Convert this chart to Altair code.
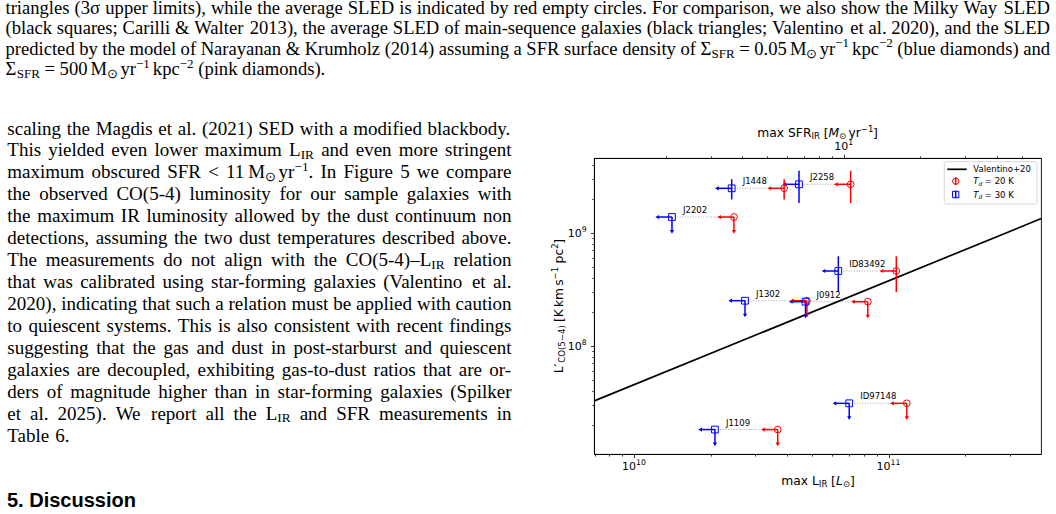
import altair as alt
import pandas as pd

# ---------------------------------------------------------------
# CO(5-4) line luminosity against the maximum IR luminosity
# ---------------------------------------------------------------
names = ["J1448", "J2258", "J2202", "ID83492", "J1302", "J0912", "ID97148", "J1109"]
lir_20k = [3.89e10, 7.10e10, 2.47e10, 1.073e11, 4.78e10, 8.29e10, 1.18e11, 3.67e10]
lir_30k = [2.42e10, 4.45e10, 1.41e10, 6.35e10, 2.73e10, 4.72e10, 7.01e10, 2.08e10]
lco = [2.47e9, 2.68e9, 1.376e9, 4.58e8, 2.50e8, 2.45e8, 3.09e7, 1.81e7]
lco_err = [5.0e8, 8.5e8, 0.0, 1.6e8, 0.0, 0.0, 0.0, 0.0]
lco_detected = [True, True, False, True, False, False, False, False]

# Valentino+20 CO(5-4)-LIR relation, end points
valentino_lir = [6.9e9, 4.0e11]
valentino_lco = [3.21e7, 1.338e9]

LIR_RANGE = [6.963e9, 3.974e11]
LCO_RANGE = [1.10e7, 4.58e9]
SFR_PER_LIR = 1.5e-10          # SFR [Msun/yr] per Lsun of IR luminosity
SFR_RANGE = [v * SFR_PER_LIR for v in LIR_RANGE]

# labelled decades of each axis
x_label_at = [1e10, 1e11]
x_label_exp = ["10", "11"]
y_label_at = [1e8, 1e9]
y_label_exp = ["8", "9"]
sfr_label_at = [10.0]
sfr_label_exp = ["1"]

LIMIT_X = 0.125                # length of the upper-limit arrows (fraction)
LIMIT_Y = 0.26

# ---------------------------------------------------------------
# Surrounding page text
# ---------------------------------------------------------------
caption_lines = [
    "triangles (3σ upper limits), while the average SLED is indicated by red empty circles. For comparison, we also show the Milky Way SLED",
    "(black squares; Carilli & Walter 2013), the average SLED of main-sequence galaxies (black triangles; Valentino et al. 2020), and the SLED",
    "predicted by the model of Narayanan & Krumholz (2014) assuming a SFR surface density of Σ_{SFR} = 0.05~M_{⊙}~yr^{−1}~kpc^{−2} (blue diamonds) and",
    "Σ_{SFR} = 500~M_{⊙}~yr^{−1}~kpc^{−2} (pink diamonds).",
]
body_lines = [
    "scaling the Magdis et al. (2021) SED with a modified blackbody.",
    "This yielded even lower maximum L_{IR} and even more stringent",
    "maximum obscured SFR < 11~M_{⊙}~yr^{−1}. In Figure 5 we compare",
    "the observed CO(5-4) luminosity for our sample galaxies with",
    "the maximum IR luminosity allowed by the dust continuum non",
    "detections, assuming the two dust temperatures described above.",
    "The measurements do not align with the CO(5-4)–L_{IR} relation",
    "that was calibrated using star-forming galaxies (Valentino et al.",
    "2020), indicating that such a relation must be applied with caution",
    "to quiescent systems. This is also consistent with recent findings",
    "suggesting that the gas and dust in post-starburst and quiescent",
    "galaxies are decoupled, exhibiting gas-to-dust ratios that are or-",
    "ders of magnitude higher than in star-forming galaxies (Spilker",
    "et al. 2025). We report all the L_{IR} and SFR measurements in",
    "Table 6.",
]
heading = "5. Discussion"

# ---------------------------------------------------------------
# Page geometry (pixels)
# ---------------------------------------------------------------
X0, Y0 = 594, 158        # top-left corner of the plot frame
W, H = 447, 296

SCRIPT = 0.7
TIMES = {" ": 250, "!": 333, "(": 333, ")": 333, ",": 250, "-": 333, ".": 250,
         "/": 278, ":": 278, ";": 278, "<": 564, "=": 564, "&": 778, "+": 564,
         "A": 722, "B": 667, "C": 667, "D": 722, "E": 611, "F": 556, "G": 722,
         "H": 722, "I": 333, "J": 389, "K": 722, "L": 611, "M": 889, "N": 722,
         "O": 722, "P": 556, "Q": 722, "R": 667, "S": 556, "T": 611, "U": 722,
         "V": 722, "W": 944, "X": 722, "Y": 722, "Z": 611,
         "a": 444, "b": 500, "c": 444, "d": 500, "e": 444, "f": 333, "g": 500,
         "h": 500, "i": 278, "j": 278, "k": 500, "l": 278, "m": 778, "n": 500,
         "o": 500, "p": 500, "q": 500, "r": 333, "s": 389, "t": 278, "u": 500,
         "v": 500, "w": 722, "x": 500, "y": 500, "z": 444,
         "σ": 550, "Σ": 600, "−": 564, "–": 500, "⊙": 778}
DEJAVU = {" ": 318, "m": 974, "a": 613, "x": 592, "L": 557, "I": 295, "R": 695,
          "[": 390, "]": 390, "S": 635, "F": 575, "M": 863, "y": 592, "r": 411,
          "−": 838, "(": 390, ")": 390, "C": 698, "O": 787, "K": 656, "k": 579,
          "s": 521, "p": 635, "c": 550, "⊙": 838, "′": 300, "T": 611, "d": 635,
          "=": 838, "V": 684, "l": 278, "e": 615, "n": 634, "t": 392, "i": 278,
          "o": 612, "+": 838}


def parse_word(word):
    """Split a word into plain, subscript, superscript and thin-space pieces."""
    pieces, buf, i = [], "", 0
    while i < len(word):
        c = word[i]
        if c in "_^" and i + 1 < len(word) and word[i + 1] == "{":
            if buf:
                pieces.append((buf, "n"))
                buf = ""
            j = word.index("}", i)
            pieces.append((word[i + 2:j], "sub" if c == "_" else "sup"))
            i = j + 1
        elif c == "~":
            if buf:
                pieces.append((buf, "n"))
                buf = ""
            pieces.append(("", "thin"))
            i += 1
        else:
            buf += c
            i += 1
    if buf:
        pieces.append((buf, "n"))
    return pieces


def serif_width(text, kind, size):
    if kind == "thin":
        return 0.167 * size
    fs = size * SCRIPT if kind in ("sub", "sup") else size
    return sum(TIMES.get(c, 500) for c in text) * fs / 1000


def set_paragraph(lines, left, right, first_base, lead, size):
    """Justified paragraph: every word placed so both margins line up."""
    rows = []
    for k, line in enumerate(lines):
        words = [parse_word(w) for w in line.split(" ")]
        widths = [sum(serif_width(t, kd, size) for t, kd in w) for w in words]
        if k == len(lines) - 1 or len(words) == 1:
            gap = 0.25 * size
        else:
            gap = (right - left - sum(widths)) / (len(words) - 1)
        x, base = left, first_base + k * lead
        for w, wd in zip(words, widths):
            cx = x
            for t, kd in w:
                if kd != "thin":
                    fs = size * SCRIPT if kd in ("sub", "sup") else size
                    dy = 0.15 * size if kd == "sub" else (-0.40 * size if kd == "sup" else 0.0)
                    rows.append({"x": cx - X0, "y": base + dy - Y0, "t": t, "fs": fs})
                cx += serif_width(t, kd, size)
            x += wd + gap
    return rows


def compose(pieces, x0, y0, size, vertical=False):
    """Math-style label built from pieces (plain / sub / sup / gap)."""
    rows, pos = [], 0.0
    for piece in pieces:
        text, kind = piece[0], piece[1]
        italic = len(piece) > 2 and piece[2]
        if kind == "gap":
            pos += text * size
            continue
        fs = size * SCRIPT if kind in ("sub", "sup") else size
        shift = 0.2 * size if kind == "sub" else (-0.38 * size if kind == "sup" else 0.0)
        if vertical:
            px, py = x0 + shift, y0 - pos
        else:
            px, py = x0 + pos, y0 + shift
        rows.append({"x": px - X0, "y": py - Y0, "t": text, "fs": fs, "it": bool(italic)})
        pos += sum(DEJAVU.get(c, 600) for c in text) * fs / 1000
    return rows


serif_rows = (set_paragraph(caption_lines, 5.5, 1050.0, 13.8, 20.5, 18.6)
              + set_paragraph(body_lines, 7.3, 511.5, 134.5, 21.93, 19.0))
heading_rows = [{"x": 7 - X0, "y": 507 - Y0, "t": heading, "fs": 20}]

TITLE = 12.3
LEG = 8.5
flat_rows = (
    compose([("max L", "n"), ("IR", "sub"), (0.3, "gap"), ("[", "n"), ("L", "n", True),
             ("⊙", "sub"), ("]", "n")], 781.3, 485.0, TITLE)
    + compose([("max SFR", "n"), ("IR", "sub"), (0.3, "gap"), ("[", "n"), ("M", "n", True),
               ("⊙", "sub"), (0.17, "gap"), ("yr", "n"), ("−1", "sup"), ("]", "n")],
              757.3, 136.5, TITLE)
    + compose([("Valentino+20", "n")], 973.3, 172.4, LEG)
    + compose([("T", "n", True), ("d", "sub", True), (0.3, "gap"), ("= 20 K", "n")], 973.3, 184.3, LEG)
    + compose([("T", "n", True), ("d", "sub", True), (0.3, "gap"), ("= 30 K", "n")], 973.3, 197.6, LEG)
)
upright_rows = [r for r in flat_rows if not r["it"]]
italic_rows = [r for r in flat_rows if r["it"]]
vertical_rows = compose([("L", "n"), ("′", "n"), ("CO(5−4)", "sub"), (0.3, "gap"), ("[K", "n"),
                         (0.17, "gap"), ("km", "n"), (0.17, "gap"), ("s", "n"), ("−1", "sup"),
                         (0.3, "gap"), ("pc", "n"), ("2", "sup"), ("]", "n")],
                        563.0, 373.3, TITLE, vertical=True)

# ---------------------------------------------------------------
# Axes: ticks from Vega, decade labels drawn as "10" + raised exponent
# ---------------------------------------------------------------
MAJOR = "abs(log(datum.value) / LN10 - round(log(datum.value) / LN10)) < 1e-6"
TICK_SIZE = {"condition": {"test": MAJOR, "value": 3.6}, "value": 2.1}
TICK_FONT = 11.0
EXP_FONT = 7.7
DIGIT = 0.636 * TICK_FONT      # width of one digit of the tick labels
EXP_DIGIT = 0.636 * EXP_FONT
RAISE = 4.6

x_ticks = [m * 10 ** e for e in (9, 10, 11) for m in range(1, 10)]
x_ticks = [v for v in x_ticks if LIR_RANGE[0] < v < LIR_RANGE[1]]
y_ticks = [m * 10 ** e for e in (7, 8, 9) for m in range(1, 10)]
y_ticks = [v for v in y_ticks if LCO_RANGE[0] < v < LCO_RANGE[1]]
sfr_ticks = [m * 10 ** e for e in (0, 1) for m in range(1, 10)]
sfr_ticks = [v for v in sfr_ticks if SFR_RANGE[0] < v < SFR_RANGE[1]]

X_AXIS = alt.Axis(values=x_ticks, labels=False, tickSize=TICK_SIZE, title=None, grid=False)
Y_AXIS = alt.Axis(values=y_ticks, labels=False, tickSize=TICK_SIZE, title=None, grid=False)
TOP_AXIS = alt.Axis(values=sfr_ticks, labels=False, tickSize=TICK_SIZE, title=None,
                    orient="top", grid=False)

LOGX = alt.Scale(type="log", domain=LIR_RANGE, nice=False)
LOGY = alt.Scale(type="log", domain=LCO_RANGE, nice=False)
LOGSFR = alt.Scale(type="log", domain=SFR_RANGE, nice=False)


def xe(field):
    return alt.X(field, type="quantitative", scale=LOGX, axis=X_AXIS)


def ye(field):
    return alt.Y(field, type="quantitative", scale=LOGY, axis=Y_AXIS)


def se(field):
    return alt.X(field, type="quantitative", scale=LOGSFR, axis=TOP_AXIS)


TICK_TEXT = dict(font="DejaVu Sans", color="black", baseline="alphabetic")

# long table: one row per galaxy and dust temperature
rows = []
for i, n in enumerate(names):
    for temp, lir in (("30 K", lir_30k[i]), ("20 K", lir_20k[i])):
        rows.append({"name": n, "temp": temp, "lir": lir, "lco": lco[i],
                     "lir_tip": lir * (1 - LIMIT_X), "lco_tip": lco[i] * (1 - LIMIT_Y),
                     "lo": lco[i] - lco_err[i], "hi": lco[i] + lco_err[i],
                     "det": lco_detected[i]})
pts = pd.DataFrame(rows)

color = alt.Color("temp:N", scale=alt.Scale(domain=["20 K", "30 K"], range=["red", "blue"]),
                  legend=None)

link = alt.Chart(pd.DataFrame({"lo": lir_30k, "hi": lir_20k, "lco": lco})).mark_rule(
    color="#a6a6a6", strokeWidth=1, strokeDash=[1, 1.6]
).encode(x=xe("lo"), x2="hi", y=ye("lco"))

relation = alt.Chart(pd.DataFrame({"lir": valentino_lir, "lco": valentino_lco})).mark_line(
    color="black", strokeWidth=1.7, clip=True
).encode(x=xe("lir"), y=ye("lco"))

base = alt.Chart(pts)
x_shaft = base.mark_rule(strokeWidth=1.5).encode(x=xe("lir_tip"), x2="lir", y=ye("lco"), color=color)
x_head = base.mark_point(shape="triangle-left", filled=True, size=18, opacity=1).encode(
    x=xe("lir_tip"), y=ye("lco"), color=color)
limits = base.transform_filter("!datum.det")
y_shaft = limits.mark_rule(strokeWidth=1.5).encode(x=xe("lir"), y=ye("lco_tip"), y2="lco", color=color)
y_head = limits.mark_point(shape="triangle-down", filled=True, size=18, opacity=1).encode(
    x=xe("lir"), y=ye("lco_tip"), color=color)
bars = base.transform_filter("datum.det").mark_rule(strokeWidth=1.5).encode(
    x=xe("lir"), y=ye("lo"), y2="hi", color=color)
circles = base.transform_filter("datum.temp == '20 K'").mark_point(
    shape="circle", filled=False, size=46, strokeWidth=1, opacity=1
).encode(x=xe("lir"), y=ye("lco"), color=color)
squares = base.transform_filter("datum.temp == '30 K'").mark_point(
    shape="square", filled=False, size=46, strokeWidth=1, opacity=1
).encode(x=xe("lir"), y=ye("lco"), color=color)
labels = alt.Chart(pd.DataFrame({"name": names, "lir": lir_30k, "lco": lco})).mark_text(
    align="left", baseline="alphabetic", dx=11, dy=-4, font="DejaVu Sans", fontSize=8.5,
    color="black"
).encode(x=xe("lir"), y=ye("lco"), text="name:N")

# bottom decade labels, centred on their ticks
xlab = alt.Chart(pd.DataFrame({"v": x_label_at, "e": x_label_exp}))
half_x = (2 * DIGIT + 2 * EXP_DIGIT) / 2
x_base = xlab.mark_text(align="right", dx=2 * DIGIT - half_x, fontSize=TICK_FONT, **TICK_TEXT).encode(
    x=xe("v"), y=alt.value(H + 15.5), text=alt.value("10"))
x_exp = xlab.mark_text(align="left", dx=2 * DIGIT - half_x, fontSize=EXP_FONT, **TICK_TEXT).encode(
    x=xe("v"), y=alt.value(H + 15.5 - RAISE), text="e:N")

# left decade labels, right-aligned next to their ticks
ylab = alt.Chart(pd.DataFrame({"v": y_label_at, "e": y_label_exp}))
y_exp = ylab.mark_text(align="right", dy=4.0 - RAISE, fontSize=EXP_FONT, **TICK_TEXT).encode(
    y=ye("v"), x=alt.value(-7.3), text="e:N")
y_base = ylab.mark_text(align="right", dy=4.0, fontSize=TICK_FONT, **TICK_TEXT).encode(
    y=ye("v"), x=alt.value(-7.3 - EXP_DIGIT), text=alt.value("10"))

data_group = alt.layer(link, relation, x_shaft, x_head, y_shaft, y_head, bars,
                       circles, squares, labels, x_base, x_exp, y_base, y_exp)

# secondary (SFR) axis along the top
slab = alt.Chart(pd.DataFrame({"v": sfr_label_at, "e": sfr_label_exp}))
half_s = (2 * DIGIT + EXP_DIGIT) / 2
top_group = alt.layer(
    alt.Chart(pd.DataFrame({"sfr": SFR_RANGE})).mark_point(opacity=0).encode(x=se("sfr")),
    slab.mark_text(align="right", dx=2 * DIGIT - half_s, fontSize=TICK_FONT, **TICK_TEXT).encode(
        x=se("v"), y=alt.value(-8.0), text=alt.value("10")),
    slab.mark_text(align="left", dx=2 * DIGIT - half_s, fontSize=EXP_FONT, **TICK_TEXT).encode(
        x=se("v"), y=alt.value(-8.0 - RAISE), text="e:N"),
)

# ---------------------------------------------------------------
# Overlay drawn in pixel units: legend, page text, axis titles
# ---------------------------------------------------------------
PX = dict(scale=None, axis=None)


def text_layer(rows, **props):
    return alt.Chart(pd.DataFrame(rows)).mark_text(
        align="left", baseline="alphabetic", color="black", **props
    ).encode(x=alt.X("x:Q", **PX), y=alt.Y("y:Q", **PX), text="t:N",
             size=alt.Size("fs:Q", scale=None, legend=None))


legend_box = alt.Chart(pd.DataFrame([{"x": 944.3 - X0, "x2": 1037 - X0,
                                      "y": 161.7 - Y0, "y2": 204 - Y0}])).mark_rect(
    fill="white", fillOpacity=0.8, stroke="#cccccc", strokeWidth=0.8, cornerRadius=2
).encode(x=alt.X("x:Q", **PX), x2="x2:Q", y=alt.Y("y:Q", **PX), y2="y2:Q")

sym_x = 955.7 - X0
legend_rules = alt.Chart(pd.DataFrame([
    {"x": 947.3 - X0, "x2": 966.7 - X0, "y": 169.3 - Y0, "y2": 169.3 - Y0, "c": "black", "w": 1.7},
    {"x": sym_x, "x2": sym_x, "y": 177.4 - Y0, "y2": 185.0 - Y0, "c": "red", "w": 1.5},
    {"x": sym_x, "x2": sym_x, "y": 190.7 - Y0, "y2": 198.3 - Y0, "c": "blue", "w": 1.5},
])).mark_rule().encode(
    x=alt.X("x:Q", **PX), x2="x2:Q", y=alt.Y("y:Q", **PX), y2="y2:Q",
    color=alt.Color("c:N", scale=None), strokeWidth=alt.StrokeWidth("w:Q", scale=None))
legend_syms = alt.Chart(pd.DataFrame([
    {"x": sym_x, "y": 181.2 - Y0, "c": "red", "s": "circle"},
    {"x": sym_x, "y": 194.5 - Y0, "c": "blue", "s": "square"},
])).mark_point(filled=False, size=40, strokeWidth=1, opacity=1).encode(
    x=alt.X("x:Q", **PX), y=alt.Y("y:Q", **PX),
    color=alt.Color("c:N", scale=None), shape=alt.Shape("s:N", scale=None))

overlay = alt.layer(
    legend_box, legend_rules, legend_syms,
    text_layer(serif_rows, font="Liberation Serif"),
    text_layer(heading_rows, font="Liberation Sans", fontWeight="bold"),
    text_layer(upright_rows, font="DejaVu Sans"),
    text_layer(italic_rows, font="DejaVu Sans", fontStyle="italic"),
    text_layer(vertical_rows, font="DejaVu Sans", angle=270),
)

chart = alt.layer(data_group, top_group, overlay).resolve_scale(
    x="independent", y="independent"
).properties(
    width=W, height=H,
    padding={"left": X0, "top": Y0, "right": 1056 - X0 - W, "bottom": 514 - Y0 - H},
    autosize=alt.AutoSizeParams(type="none"),
    background="white",
).configure_view(
    stroke="black", strokeWidth=0.9
).configure_axis(
    domainColor="black", domainWidth=0.9, tickColor="black", tickWidth=0.8, grid=False,
)

chart.save("out.html", embed_options={"renderer": "svg", "actions": False})
